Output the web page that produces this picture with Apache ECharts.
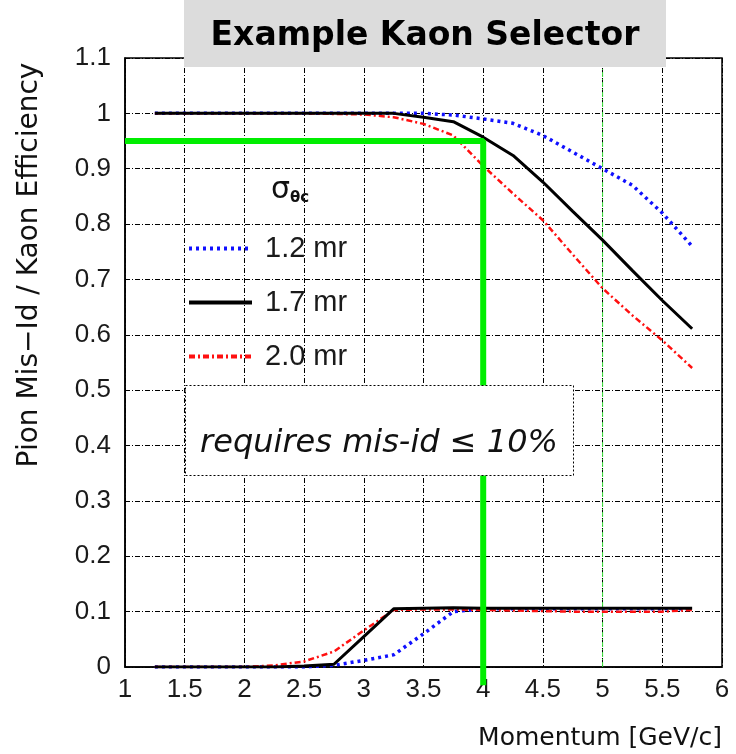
<!DOCTYPE html>
<html><head><meta charset="utf-8">
<script src="https://cdn.jsdelivr.net/npm/echarts@6/dist/echarts.min.js"></script>
<style>html,body{margin:0;padding:0;background:#fff}#c{width:736px;height:754px}</style>
</head><body><div id="c"></div>
<script>
// ---- data ----
const xEff = [1.25, 1.5, 2, 2.5, 3, 3.25, 3.5, 3.75, 4, 4.25, 4.5, 4.75, 5, 5.25, 5.5, 5.75];
const effBlue  = [1, 1, 1, 1, 1, 1, 1, 0.997, 0.99, 0.982, 0.96, 0.93, 0.90, 0.87, 0.82, 0.76];
const effBlack = [1, 1, 1, 1, 1, 1, 0.993, 0.985, 0.957, 0.924, 0.876, 0.823, 0.771, 0.716, 0.662, 0.611];
const effRed   = [1, 1, 1, 1, 0.998, 0.993, 0.981, 0.960, 0.905, 0.855, 0.807, 0.745, 0.684, 0.635, 0.59, 0.54];

const xMis = [1.25, 1.5, 1.75, 2, 2.25, 2.5, 2.75, 3, 3.25, 3.5, 3.75, 4, 4.25, 4.5, 4.75, 5, 5.25, 5.5, 5.75];
const misBlack = [0, 0, 0, 0, 0, 0.002, 0.005, 0.055, 0.105, 0.106, 0.107, 0.106, 0.106, 0.106, 0.106, 0.106, 0.106, 0.106, 0.106];
const misRed   = [0, 0, 0, 0, 0.003, 0.01, 0.028, 0.066, 0.103, 0.104, 0.104, 0.103, 0.102, 0.101, 0.1, 0.1, 0.1, 0.1, 0.103];
const misBlue  = [0, 0, 0, 0, 0, 0, 0.003, 0.012, 0.022, 0.06, 0.1, 0.105, 0.105, 0.105, 0.105, 0.105, 0.105, 0.105, 0.105];

const seriesNames = ['1.2 mr', '1.7 mr', '2.0 mr'];
const cutX = [1, 4, 4];
const cutY = [0.95, 0.95, -0.033];
const refX = [5, 5];
const refY = [0, 1.1];

const xTicks = {min: 1, max: 6, interval: 0.5};
const yTicks = {min: 0, max: 1.1, interval: 0.1};

// ---- chart ----
const pair = (xs, ys) => xs.map((x, i) => [x, ys[i]]);
const FONT = 'Liberation Sans';
const styles = {
  '1.2 mr': {color: '#1010ff', width: 3.5, type: [3, 4]},
  '1.7 mr': {color: '#000000', width: 3, type: 'solid'},
  '2.0 mr': {color: '#ff1010', width: 2.5, type: [6, 3, 2, 3]}
};
function mk(name, xs, ys) {
  const s = styles[name];
  return {name, type: 'line', data: pair(xs, ys), symbol: 'none', z: name === '1.7 mr' ? 4 : 3,
    lineStyle: {color: s.color, width: s.width, type: s.type}, itemStyle: {color: s.color}};
}
const chart = echarts.init(document.getElementById('c'), null, {renderer: 'canvas'});
chart.setOption({
  animation: false,
  backgroundColor: '#fff',
  grid: {left: 125, right: 14, top: 58, bottom: 87, show: true, borderColor: '#000', borderWidth: 1.5, backgroundColor: 'transparent'},
  xAxis: {type: 'value', min: xTicks.min, max: xTicks.max, interval: xTicks.interval,
    axisLine: {show: true, onZero: false, lineStyle: {color: '#000', width: 1.5}},
    axisTick: {show: false},
    axisLabel: {color: '#1a1a1a', fontFamily: FONT, fontSize: 26, margin: 10,
      formatter: v => String(Math.round(v * 10) / 10)},
    splitLine: {show: true, lineStyle: {color: '#000', width: 1, type: [5, 2, 1, 2]}}
  },
  yAxis: {type: 'value', min: yTicks.min, max: yTicks.max, interval: yTicks.interval,
    axisLine: {show: true, lineStyle: {color: '#000', width: 1.5}},
    axisTick: {show: false},
    axisLabel: {color: '#1a1a1a', fontFamily: FONT, fontSize: 26, margin: 14,
      formatter: v => String(Math.round(v * 10) / 10)},
    splitLine: {show: true, lineStyle: {color: '#000', width: 1, type: [5, 2, 1, 2]}}
  },
  legend: {
    show: true, data: seriesNames, orient: 'vertical', left: 182, top: 229, itemWidth: 63, itemHeight: 16, itemGap: 25,
    textStyle: {fontFamily: FONT, fontSize: 29, color: '#1a1a1a', padding: [0, 0, 0, 8]},
    itemStyle: {opacity: 0},
    lineStyle: {width: 4},
    selectedMode: false, z: 20
  },
  series: [
    {name: 'ref5', type: 'line', data: pair(refX, refY), symbol: 'none', z: 2, silent: true,
      lineStyle: {color: '#33dd33', width: 1, type: [5, 2, 1, 2]}},
    mk('1.2 mr', xEff, effBlue), mk('1.7 mr', xEff, effBlack), mk('2.0 mr', xEff, effRed),
    mk('1.2 mr', xMis, misBlue), mk('2.0 mr', xMis, misRed), mk('1.7 mr', xMis, misBlack),
    {name: 'cut', type: 'line', data: pair(cutX, cutY), symbol: 'none', z: 5, clip: false, silent: true,
      lineStyle: {color: '#00ee00', width: 6}}
  ],
  graphic: [
    {type: 'rect', left: 184, top: 0, z: 100, shape: {width: 482, height: 67}, style: {fill: '#dcdcdc'}},
    {type: 'text', z: 101, x: 425, y: 36, style: {text: 'Example Kaon Selector', font: 'bold 33px "DejaVu Sans"', fill: '#000', align: 'center', verticalAlign: 'middle'}},
    {type: 'text', z: 101, x: 30, y: 265, rotation: Math.PI / 2,
      style: {text: 'Pion Mis\u2212Id / Kaon Efficiency', font: '28px "DejaVu Sans"', fill: '#111', align: 'center', verticalAlign: 'middle'}},
    {type: 'text', z: 101, x: 722, y: 738,
      style: {text: 'Momentum [GeV/c]', font: '25px "DejaVu Sans"', fill: '#111', align: 'right', verticalAlign: 'middle'}},
    {type: 'text', z: 101, x: 290, y: 190,
      style: {text: '{s|\u03c3}{sub|\u03b8c}', fill: '#111', align: 'center', verticalAlign: 'middle',
        rich: {s: {fontSize: 30, fontFamily: 'DejaVu Sans', fill: '#111'}, sub: {fontSize: 15, fontFamily: 'DejaVu Sans', fontWeight: 'bold', padding: [16, 0, 0, 0], fill: '#111'}}}},
    {type: 'rect', z: 100, left: 185, top: 385, shape: {width: 388, height: 90},
      style: {fill: '#fff', stroke: '#000', lineWidth: 1, lineDash: [2, 2]}},
    {type: 'text', z: 101, x: 379, y: 444,
      style: {text: 'requires mis-id \u2264 10%', font: 'italic 32px "DejaVu Sans"', fill: '#111', align: 'center', verticalAlign: 'middle'}}
  ]
});
</script></body></html>
